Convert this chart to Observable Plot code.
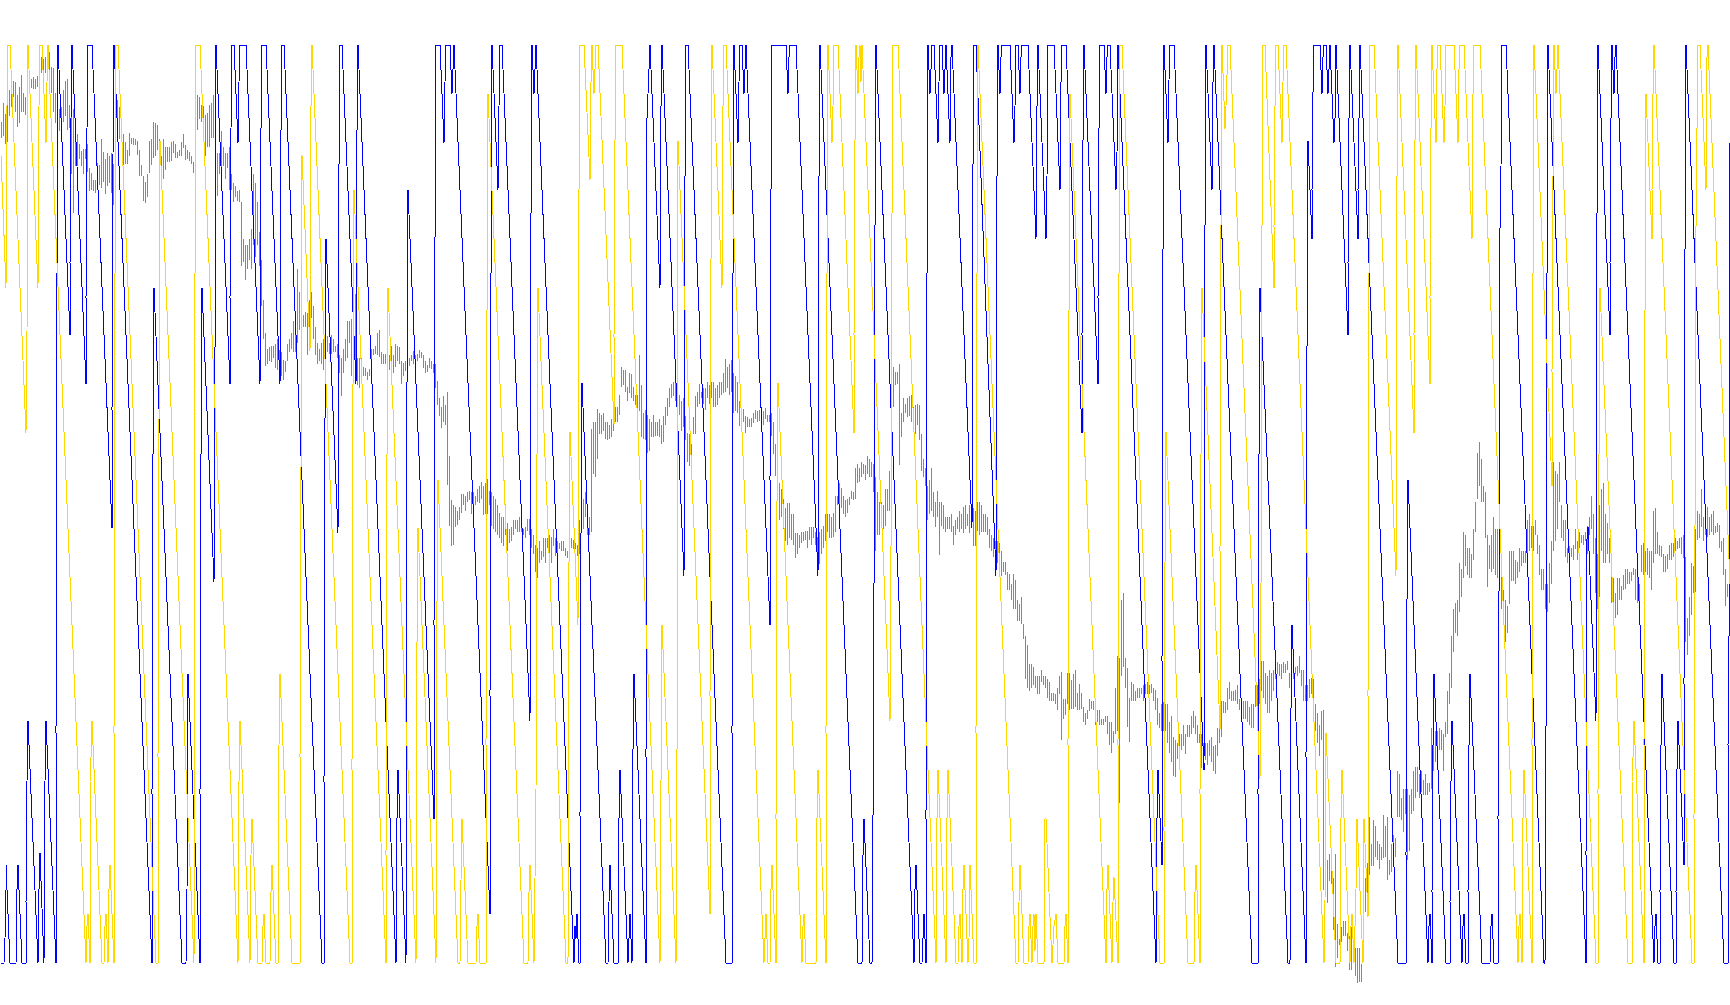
<!DOCTYPE html>
<html><head><meta charset="utf-8">
<style>html,body{margin:0;padding:0;background:#fff;overflow:hidden}svg{display:block}</style>
<script src="https://cdn.jsdelivr.net/npm/d3@7"></script>
<script src="https://cdn.jsdelivr.net/npm/@observablehq/plot@0.6"></script>
</head><body><script>
// Turning points: bar, level (0 = bottom of band, 1500 = top), flat pairs
const blueTurns = [0,0,3,0,4,40,5,120,5,160,9,0,15,0,16,120,17,160,21,0,25,0,25,100,26,296,27,396,37,0,38,120,39,180,43,0,44,296,45,396,55,0,55,376,56,1123,57,1500,69,1026,69,1143,70,1380,71,1500,85,946,85,1086,86,1363,87,1500,91,1500,111,711,111,903,112,1320,113,1500,151,0,151,276,152,828,153,1103,181,0,185,0,186,116,187,473,199,0,199,276,200,828,201,1103,213,623,214,1000,215,1500,229,946,229,1086,230,1363,231,1500,233,1500,237,1340,238,1440,239,1500,245,1500,259,946,260,1363,261,1500,265,1500,279,946,280,1360,281,1500,283,1500,321,0,323,0,323,296,324,888,325,1183,337,703,338,1303,339,1500,341,1500,355,946,356,1360,357,1500,395,0,396,236,397,316,405,0,406,946,407,1263,433,236,433,553,434,1183,435,1500,439,1500,443,1340,444,1440,445,1500,449,1500,451,1420,452,1460,453,1500,489,80,489,436,490,1123,491,1500,497,1263,498,1400,499,1500,501,1500,529,396,530,1223,531,1500,533,1420,534,1460,535,1500,573,0,574,60,575,40,576,80,578,0,579,0,579,240,580,700,581,948,605,0,607,0,608,100,609,160,613,0,617,0,617,76,618,236,619,316,627,0,629,80,631,0,632,350,633,473,645,0,645,336,646,1380,648,1460,649,1500,659,1103,660,1400,661,1500,683,633,684,1283,685,1500,687,1500,725,0,731,0,731,376,732,1123,733,1500,737,1340,738,1440,739,1500,741,1500,743,1420,744,1460,745,1500,769,553,769,790,770,1263,771,1500,785,1500,787,1420,788,1480,789,1500,795,1500,817,633,818,1283,819,1500,857,0,861,0,862,176,863,236,869,0,871,0,872,236,873,613,874,1203,875,1500,913,0,914,120,915,160,919,0,921,0,923,80,925,0,925,236,926,1123,927,1500,929,1420,930,1460,931,1500,933,1500,937,1340,938,1440,939,1500,941,1500,943,1420,944,1460,945,1500,949,1340,950,1480,951,1500,971,711,972,1303,973,1500,975,1500,995,633,996,1283,997,1500,999,1420,1000,1480,1001,1500,1009,1500,1013,1340,1014,1400,1015,1500,1017,1500,1019,1420,1020,1480,1021,1500,1027,1500,1035,1183,1036,1400,1037,1500,1045,1183,1046,1283,1047,1500,1053,1500,1059,1263,1060,1440,1061,1500,1065,1500,1081,866,1081,1026,1082,1343,1083,1500,1097,946,1097,1086,1098,1363,1099,1500,1103,1500,1105,1420,1106,1480,1107,1500,1109,1500,1115,1263,1116,1323,1117,1500,1155,0,1156,236,1157,316,1161,160,1161,493,1162,1163,1163,1500,1167,1340,1168,1443,1169,1500,1173,1500,1203,316,1204,1203,1205,1500,1211,1263,1212,1440,1213,1500,1251,0,1257,0,1257,276,1258,828,1259,1103,1287,0,1289,0,1290,416,1291,553,1305,0,1305,336,1306,1003,1307,1343,1311,1183,1311,1263,1312,1423,1313,1500,1319,1500,1321,1420,1322,1480,1323,1500,1325,1500,1327,1420,1329,1500,1333,1340,1334,1380,1335,1500,1347,1026,1347,1143,1348,1380,1349,1500,1357,1183,1357,1263,1358,1380,1359,1500,1397,0,1405,0,1405,176,1406,593,1407,790,1427,0,1428,60,1429,80,1431,0,1431,116,1432,356,1433,473,1445,0,1449,0,1449,100,1450,296,1451,396,1461,0,1462,60,1463,80,1465,0,1467,0,1467,116,1468,356,1469,473,1481,0,1489,0,1490,60,1491,80,1493,0,1497,0,1497,236,1498,600,1499,1200,1500,1300,1501,1500,1505,1500,1543,0,1544,0,1545,376,1546,1123,1547,1500,1585,0,1585,176,1586,693,1587,713,1595,396,1596,1223,1597,1500,1609,1026,1609,1143,1610,1380,1611,1500,1613,1420,1614,1480,1615,1500,1653,0,1654,60,1655,80,1657,0,1659,0,1659,116,1660,356,1661,473,1673,0,1675,0,1675,116,1676,316,1677,396,1683,160,1683,456,1684,1163,1685,1500,1723,0,1727,0,1727,356,1728,523,1729,1340];

const yellowTurns = [0,1320,5,1103,6,1400,7,1500,9,1500,25,866,26,1026,27,1500,37,1103,38,1400,39,1500,41,1500,45,1340,46,1440,47,1500,85,0,86,60,87,80,89,0,89,296,90,336,91,396,101,0,103,0,104,60,105,80,107,0,108,120,109,160,113,0,113,376,114,1123,115,1500,117,1500,155,0,157,0,157,336,158,883,159,1343,193,0,194,1123,195,1500,199,1500,237,0,238,296,239,396,249,0,250,176,251,236,257,0,261,0,262,60,263,80,265,0,269,0,270,116,271,160,275,0,277,0,277,336,278,356,279,473,291,0,299,0,299,336,300,803,301,1320,309,1000,310,1400,311,1500,349,0,351,0,351,316,352,943,353,1263,385,0,385,176,386,828,387,1103,415,0,416,523,417,711,435,0,436,590,437,790,457,0,459,0,460,136,461,236,467,0,475,0,476,60,477,80,479,0,485,0,485,356,486,1063,487,1420,523,0,527,0,528,116,529,160,533,0,535,276,536,828,537,1103,565,0,567,0,568,653,569,868,577,553,578,1263,579,1500,583,1500,589,1280,590,1440,591,1500,593,1420,594,1460,595,1500,597,1500,613,880,613,1023,614,1343,615,1500,621,1500,659,0,660,296,661,553,675,0,676,336,677,1343,709,80,709,436,710,1143,711,1500,721,1103,722,1400,723,1500,725,1500,763,0,765,80,767,0,769,0,770,120,771,160,775,0,775,236,776,753,777,948,801,0,802,60,803,80,805,0,815,0,816,236,817,316,825,0,825,376,826,1123,827,1500,831,1340,832,1400,833,1500,837,1500,853,866,853,1026,854,1343,855,1500,857,1420,858,1480,859,1500,860,1440,861,1500,889,396,890,673,891,1223,892,1500,897,1500,935,0,936,236,937,316,945,0,946,236,947,316,955,0,957,0,958,60,959,80,961,0,962,120,963,160,967,0,968,40,969,160,973,0,975,0,975,376,976,1123,977,1500,1015,0,1017,0,1018,100,1019,160,1023,0,1027,0,1028,60,1029,80,1031,0,1032,60,1033,80,1034,20,1035,80,1037,0,1043,0,1044,236,1045,236,1049,76,1051,0,1053,60,1055,80,1057,0,1063,0,1064,60,1065,80,1067,0,1067,356,1068,1063,1069,1420,1105,0,1106,120,1107,160,1111,0,1112,100,1113,140,1117,0,1117,356,1118,1123,1119,1500,1121,1500,1159,0,1163,0,1163,216,1164,653,1165,868,1187,0,1193,0,1194,116,1195,160,1199,0,1199,276,1200,828,1201,1103,1219,383,1219,673,1220,1203,1221,1500,1224,1363,1225,1400,1227,1500,1229,1500,1259,300,1260,613,1261,1203,1262,1500,1264,1500,1273,1103,1273,1203,1274,1400,1275,1500,1277,1500,1281,1340,1282,1440,1283,1500,1285,1500,1323,0,1324,100,1325,376,1335,0,1339,0,1340,236,1341,316,1349,0,1350,60,1351,80,1353,0,1355,120,1356,236,1362,0,1363,236,1367,76,1367,436,1368,1123,1369,1500,1373,1500,1395,633,1396,1283,1397,1500,1413,866,1413,1026,1414,1343,1415,1500,1429,946,1429,1086,1430,1363,1431,1500,1435,1340,1436,1460,1437,1500,1439,1500,1443,1340,1444,1400,1445,1500,1453,1500,1457,1340,1458,1460,1459,1500,1463,1500,1471,1183,1472,1420,1473,1500,1479,1500,1517,0,1518,60,1519,80,1521,0,1522,236,1523,316,1531,0,1531,356,1532,1123,1533,1500,1551,780,1551,966,1552,1283,1553,1500,1555,1420,1556,1460,1557,1500,1595,0,1597,0,1597,276,1598,828,1599,1103,1627,0,1631,0,1631,296,1632,336,1633,396,1643,0,1643,356,1644,1063,1645,1420,1651,1183,1651,1263,1652,1420,1653,1500,1691,0,1693,0,1693,236,1694,708,1695,1203,1696,1363,1697,1500,1699,1500,1705,1263,1706,1480,1707,1500,1729,620];

// Green bars, every second bar position: distance below the top of the band, upper end then lower end
const greenA = [150,175,118,172,137,185,122,182,97,140,84,125,82,108,85,133,106,158,93,152,73,133,103,133,108,138,73,122,70,95,79,94,76,95,79,95,75,92,60,88,44,70,46,70,44,70,44,82,36,82,60,103,62,133,103,152,118,160,128,165,125,163,98,150,83,140,80,162,122,160,140,235,128,298,170,222,170,222,185,210,197,222,193,235,193,210,185,232,225,262,233,260,245,263,245,265,217,242,220,252,178,258,198,248,210,268,200,255,205,250,200,265,218,285,150,198,113,165,125,178,145,165,170,220,183,218,195,218,168,205,175,185,175,188,178,188,180,203,195,238,220,238,238,278,248,282,235,272,180,233,178,220,150,208,152,205,155,195,177,240,205,243,178,243,190,228,190,215,190,215,182,213,180,200,185,208,198,208,195,205,183,205,170,192,188,212,195,210,198,213,205,218,215,233,165,190,105,163,108,145,122,150,123,165,138,205,135,190,122,190,118,175,105,175,165,272,200,270,200,235,165,235,190,222,200,242,200,225,190,260,235,260,250,280,255,272,262,278,260,280,280,385,340,378,350,407,350,390,340,375,325,390,235,350,250,370,280,350,330,385,375,450,440,505,495,548,520,545,517,540,515,542,515,535,513,552,505,555,522,560,525,565,538,572,540,558,513,540,505,525,495,520,475,525,470,525,390,510,428,490,475,515,465,485,460,485,462,530,440,500,428,470,450,505,485,530,510,545,520,540,510,545,505,555,515,530,500,525,510,528,497,528,505,525,515,525,512,535,530,560,535,598,520,560,505,540,475,535,475,510];
const greenB = [472,565,475,560,430,555,535,580,535,585,535,570,550,565,552,565,558,572,553,565,520,555,520,530,515,528,495,530,490,533,525,545,528,545,528,545,515,550,530,555,515,558,530,560,513,550,515,540,518,545,540,577,543,565,540,557,540,548,535,548,530,540,523,545,530,543,528,540,522,535,525,535,530,552,540,560,547,558,535,552,540,553,545,560,545,585,573,612,600,630,615,650,598,640,612,645,590,742,695,810,768,842,775,840,778,812,785,808,778,800,758,788,758,775,760,785,755,770,752,768,755,790,755,780,760,775,750,770,745,772,738,765,745,792,740,790,733,790,752,775,755,810,760,815,765,820,775,825,788,830,795,838,795,842,788,825,805,850,815,838,812,835,800,825,800,815,800,820,795,820,795,820,815,825,812,830,798,818,798,825,815,845,825,855,840,885,845,895,835,870,850,865,830,860,830,870,830,845,825,870,828,870,815,842,830,858,835,858,838,848,835,850,835,850,845,858,850,862,845,855,830,845,832,848,838,848,840,858,800,855,790,815,765,815,755,795,790,825,795,825,652,820,640,725,640,730,618,700,625,660,628,660,625,655,640,668,640,670,645,668,635,665,610,655,615,640,615,640,595,628,550,582,555,580,555,590,582,605,560,592,562,600,582,605,595,612,595,640,530,622,580,665,625,668,620,670,628,690,635,688,640,665,628,665,640,662,640,662,635,665,645,675,630,672,615,645,600,630,585,615,578,600,575,598,570,605,575,625,595,628,605,655,600,648,630,670,658,705,660,712,675,710,632,660,598,660,590,615,578,610];
const greenC = [590,600,585,610,585,620,575,600,580,610,575,600,575,615,585,615,580,612,575,600,575,595,560,592,537,590,550,585,545,595,538,590,560,625,565,622,575,625,605,647,620,640,618,640,630,657,632,648,635,648,633,648,625,642,620,635,622,640,620,638,625,642,622,645,617,635,628,640,628,640,625,662,640,692,675,728,675,730,740,800,750,795,765,815,780,835,772,840,772,830,790,833,790,840,822,862,822,855,825,845,820,838,820,835,818,832,818,845,812,832,812,840,812,830,820,840,828,870,820,872,815,855,810,845,790,835,790,820,790,830,795,830,788,828,760,820,760,775,740,775,748,780,760,790,768,795,765,788,762,775,752,765,755,768,715,765,708,740,715,738,706,730,708,725,710,735,695,725,700,730,705,730,708,755,730,850,755,825,770,825,770,800,775,815,750,810,750,785,720,785,550,700,550,615,558,580,558,578,545,710,625,665,600,640,610,625,600,632,598,630,595,640,615,640,612,660,610,645,612,670,660,720,700,730,715,745,745,800,735,790,715,785,755,795,770,812,752,795,770,857,770,810,775,815,795,820,795,815,795,815,790,820,810,840,800,825,795,815,785,820,790,815,778,822,775,815,790,810,775,822,780,810,780,843,785,843,770,818,770,825,775,820,790,820,790,820,795,825,815,845,825,850,830,860,835,855,835,870,838,855,850,892,868,885,868,890,885,915,888,915,905,930,888,945,898,945,930,965,938,965,925,970,970,995,990,1060,1005,1075,1035,1080,1035,1075,1040,1070,1055,1075,1055,1085,1055,1085,1045,1065,1055,1070,1055,1075,1060,1090,1065,1095];
const greenD = [1082,1095,1082,1095,1085,1100,1075,1110,1055,1085,1048,1160,1092,1125,1092,1118,1050,1100,1050,1110,1062,1108,1052,1108,1045,1105,1082,1110,1068,1110,1082,1108,1105,1130,1115,1135,1110,1125,1092,1112,1095,1108,1095,1110,1100,1135,1110,1130,1110,1135,1125,1135,1125,1135,1120,1130,1120,1150,1130,1168,1130,1180,1145,1165,1075,1150,1022,1145,1025,1262,930,1055,920,1040,1025,1075,1042,1138,1090,1162,1065,1095,1068,1095,1080,1095,1075,1090,1075,1090,1075,1085,1070,1095,1068,1085,1065,1085,1070,1085,1068,1082,1075,1095,1078,1110,1090,1135,1115,1140,1100,1145,1098,1145,1100,1145,1100,1165,1130,1180,1120,1195,1155,1218,1160,1220,1165,1190,1150,1175,1150,1175,1135,1170,1150,1182,1135,1155,1135,1155,1120,1150,1112,1140,1120,1150,1135,1165,1150,1165,1150,1205,1165,1205,1165,1192,1165,1200,1160,1185,1155,1195,1170,1210,1168,1215,1140,1185,1130,1165,1095,1155,1095,1115,1098,1115,1075,1110,1065,1092,1080,1095,1080,1095,1078,1095,1070,1100,1092,1110,1095,1120,1095,1125,1095,1125,1095,1130,1105,1135,1100,1140,1100,1140,1070,1105,1070,1110,1060,1100,1030,1080,1030,1090,1050,1100,1055,1115,1045,1115,1050,1095,1045,1080,1028,1060,1032,1052,1035,1055,1035,1060,1032,1050,1035,1050,1030,1045,1050,1075,1025,1050,1045,1060,1040,1052,1038,1055,1022,1050,1045,1072,1045,1095,1070,1095,1070,1095,1060,1090,1058,1085,1060,1105,1100,1145,1115,1165,1135,1185,1112,1160,1110,1405,1255,1405,1355,1425,1345,1390,1345,1395,1385,1470,1345,1530,1460,1515,1485,1495,1465,1490,1455,1480,1455,1480,1475,1505,1480,1535,1465,1535,1490,1520,1500,1545,1500,1557,1500,1555,1525,1555,1415,1480,1385,1440,1360,1410,1285,1380,1330,1365,1290,1365,1300,1350,1325,1355,1330,1370];
const greenE = [1335,1355,1282,1352,1300,1350,1285,1388,1355,1380,1330,1375,1315,1345,1320,1350,1210,1285,1215,1285,1255,1290,1240,1310,1240,1280,1240,1355,1250,1340,1240,1280,1210,1275,1203,1255,1203,1245,1215,1255,1210,1245,1225,1250,1215,1250,1230,1250,1230,1245,1140,1240,1165,1210,1145,1195,1145,1175,1140,1175,1143,1175,1150,1210,1130,1155,1080,1150,1050,1100,990,1075,945,1015,935,985,930,990,870,950,880,925,820,895,825,875,845,890,845,895,855,895,815,865,770,820,690,765,673,745,700,770,745,770,755,830,825,910,840,880,825,885,795,880,815,890,815,895,860,905,885,945,915,950,930,1000,940,985,850,938,850,900,850,900,865,905,868,895,845,885,850,875,850,870,850,870,800,860,790,850,810,845,810,850,800,825,825,855,840,890,880,915,880,915,905,945,905,950,870,935,835,905,705,850,720,835,725,815,705,770,775,830,800,835,800,860,845,870,842,872,845,860,840,865,815,848,835,865,820,845,825,838,825,840,820,835,810,855,795,825,760,815,790,855,830,920,855,945,775,925,750,850,740,870,790,870,805,855,830,870,880,935,895,940,920,960,895,955,895,930,908,930,890,915,880,912,880,905,885,905,885,900,878,890,880,930,885,935,905,935,840,885,838,890,850,885,845,890,850,895,850,915,785,870,780,855,820,855,840,858,842,860,855,885,858,885,855,880,840,865,838,865,838,860,830,850,835,848,830,845,828,855,825,862,860,1000,960,1020,925,990,870,955,875,920,815,918,785,832,790,830,750,812,795,835,775,825,778,828,795,825,790,820,785,825,810,822,805,820,808,845,835,852,830,890,880,940,905,925,870,920];

const pairs = flat => d3.range(0, flat.length, 2).map(i => ({x: flat[i], v: flat[i + 1]}));
const spans = [...greenA, ...greenB, ...greenC, ...greenD, ...greenE];
const green = d3.range(0, spans.length, 2).map(i => ({bar: i + 1, upper: 1523 - spans[i], lower: 1523 - spans[i + 1]}));

const chart = Plot.plot({
  width: 1730, height: 1005,
  marginTop: 0, marginRight: 0, marginBottom: 0, marginLeft: 0,
  x: {axis: null, domain: [0, 1730], range: [0.5, 1730.5]},
  y: {axis: null, domain: [0, 1500], range: [962.5, 44.5]},
  style: {background: "#fff"},
  marks: [
    Plot.ruleX(green, {x: d => d.bar - 0.5, y1: "lower", y2: "upper", stroke: "#00e600", strokeWidth: 1, shapeRendering: "crispEdges"}),
    Plot.line(pairs(blueTurns), {x: "x", y: "v", stroke: "#0000ff", strokeWidth: 1, shapeRendering: "crispEdges"}),
    Plot.line(pairs(yellowTurns), {x: "x", y: "v", stroke: "#ffd700", strokeWidth: 1, shapeRendering: "crispEdges"})
  ]
});
document.body.appendChild(chart);
</script></body></html>
